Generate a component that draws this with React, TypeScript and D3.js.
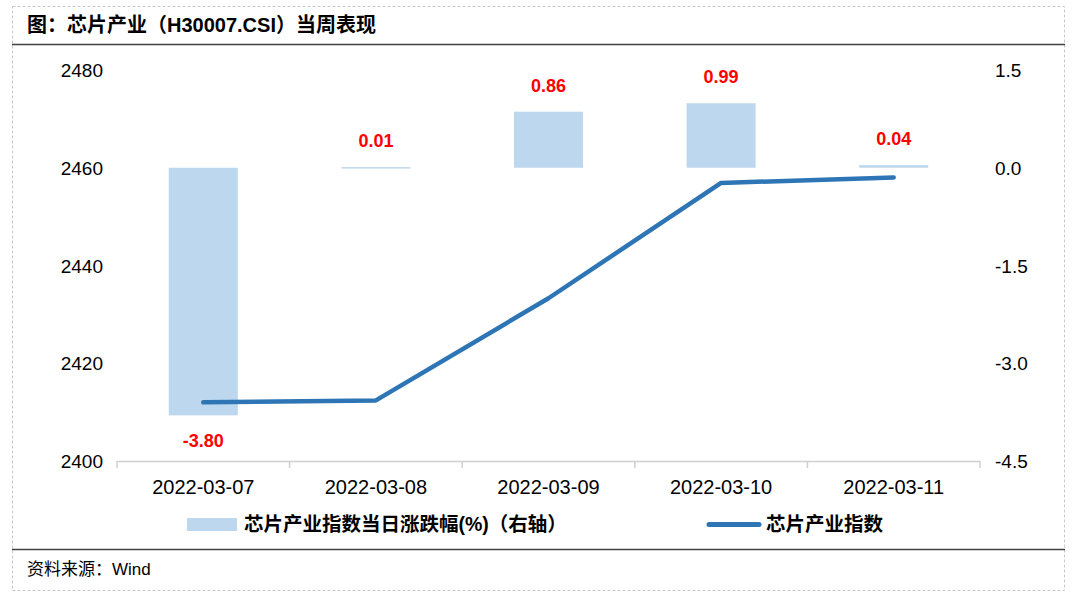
import React from "react";
import * as d3 from "d3";

const dates = ["2022-03-07", "2022-03-08", "2022-03-09", "2022-03-10", "2022-03-11"];
const changes = [-3.8, 0.01, 0.86, 0.99, 0.04];
const indexValues = [2412.0, 2412.4, 2433.3, 2456.9, 2458.0];
const leftTicks = [2400, 2420, 2440, 2460, 2480];
const rightTicks = [-4.5, -3.0, -1.5, 0.0, 1.5];

const W = 1077, H = 598;
const plotL = 117, plotR = 980, plotT = 70, plotB = 461;

export default function App() {
  const x = d3.scaleBand<string>().domain(dates).range([plotL, plotR]).paddingInner(0).paddingOuter(0);
  const yL = d3.scaleLinear().domain([2400, 2480]).range([plotB, plotT]);
  const yR = d3.scaleLinear().domain([-4.5, 1.5]).range([plotB, plotT]);
  const bw = x.bandwidth() * 0.4;
  const line = d3.line<number>()
    .x((_, i) => (x(dates[i]) as number) + x.bandwidth() / 2)
    .y((d) => yL(d));
  const font = "Arial, 'Liberation Sans', 'Noto Sans CJK SC', sans-serif";
  const boundaries = dates.map((d) => x(d) as number).concat([plotR]);
  return (
    <svg width={W} height={H} style={{ position: "absolute", left: 0, top: 0, background: "#fff" }} fontFamily={font}>
      <rect x={12.5} y={6.5} width={1052} height={584} fill="none" stroke="#c8c8c8" strokeDasharray="3,2" />
      <text x={27} y={32} fontSize={20} fontWeight="bold" fill="#000">图：芯片产业（H30007.CSI）当周表现</text>
      <line x1={12} x2={1065} y1={44.5} y2={44.5} stroke="#404040" strokeWidth={1.5} />
      <line x1={12} x2={1065} y1={549.5} y2={549.5} stroke="#404040" strokeWidth={1.5} />
      <text x={27} y={575} fontSize={17} fill="#000">资料来源：Wind</text>

      {/* bars */}
      {changes.map((v, i) => {
        const cx = (x(dates[i]) as number) + x.bandwidth() / 2;
        const y0 = yR(0), y1 = yR(v);
        return (
          <rect key={i} x={cx - bw / 2} y={Math.min(y0, y1)} width={bw} height={Math.max(1.5, Math.abs(y1 - y0))} fill="#bdd7ee" />
        );
      })}
      {/* axis */}
      <line x1={plotL} x2={plotR} y1={plotB + 0.5} y2={plotB + 0.5} stroke="#d0d0d0" strokeWidth={1.5} />
      {boundaries.map((b, i) => (
        <line key={i} x1={b} x2={b} y1={plotB} y2={plotB + 7} stroke="#d0d0d0" strokeWidth={1.5} />
      ))}
      {dates.map((d) => (
        <text key={d} x={(x(d) as number) + x.bandwidth() / 2} y={494} fontSize={20} textAnchor="middle" fill="#000">{d}</text>
      ))}
      {leftTicks.map((t) => (
        <text key={t} x={103} y={yL(t) + 7} fontSize={19} textAnchor="end" fill="#000">{t}</text>
      ))}
      {rightTicks.map((t) => (
        <text key={t} x={995} y={yR(t) + 7} fontSize={19} textAnchor="start" fill="#000">{t.toFixed(1)}</text>
      ))}
      {/* line */}
      <path d={line(indexValues) as string} fill="none" stroke="#2e75b6" strokeWidth={4.5} strokeLinejoin="round" strokeLinecap="round" />
      {/* labels */}
      {changes.map((v, i) => {
        const cx = (x(dates[i]) as number) + x.bandwidth() / 2;
        const y = v >= 0 ? yR(v) - 20 : yR(v) + 32;
        return (
          <text key={i} x={cx} y={y} fontSize={18} fontWeight="bold" fill="#ff0000" textAnchor="middle">{v.toFixed(2)}</text>
        );
      })}
      {/* legend */}
      <rect x={187} y={518} width={50} height={13} fill="#bdd7ee" />
      <text x={244} y={531} fontSize={19.5} fontWeight="bold" fill="#000">芯片产业指数当日涨跌幅(%)（右轴）</text>
      <line x1={709} x2={759} y1={524.5} y2={524.5} stroke="#2e75b6" strokeWidth={5} strokeLinecap="round" />
      <text x={766} y={531} fontSize={19.5} fontWeight="bold" fill="#000">芯片产业指数</text>
    </svg>
  );
}
